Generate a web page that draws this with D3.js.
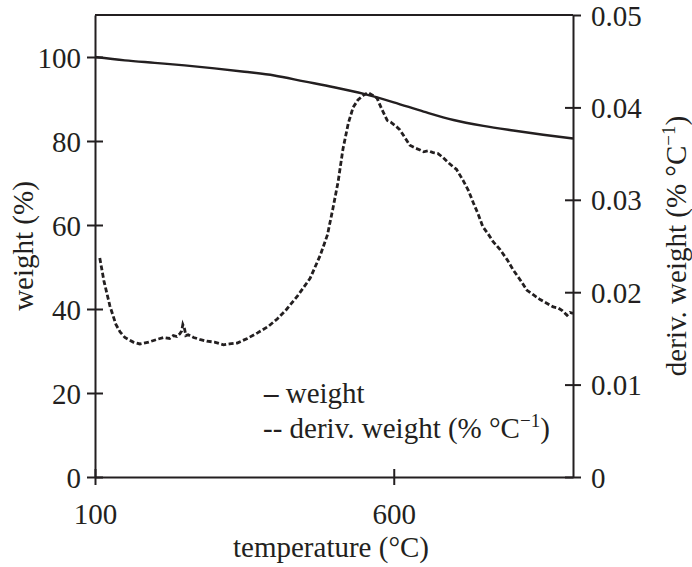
<!DOCTYPE html>
<html><head><meta charset="utf-8">
<script src="https://cdn.jsdelivr.net/npm/d3@7"></script>
<style>body{margin:0;background:#fff}svg{display:block}text{font-family:"Liberation Serif","Times New Roman",serif;fill:#231f20}</style>
</head><body>
<svg id="c" width="692" height="567"></svg>
<script>
const xTicks = [100, 600];
const yLeftTicks = [0, 20, 40, 60, 80, 100];
const yRightTicks = [0, 0.01, 0.02, 0.03, 0.04, 0.05];
const weightT = [100,150,200,250,300,350,400,450,500,550,600,650,700,750,800,850,900];
const weightV = [100,99.2,98.6,98.0,97.3,96.5,95.6,94.2,92.8,91.2,89.2,87.0,85.0,83.6,82.5,81.5,80.6];
const derivT = [108,115,125,135,142,150,164,175,190,204,215,225,231,237,242,245,247,250,252,256,265,275,287,300,315,325,338,355,372,390,405,420,439,460,477,489,498,507,515,524,532,540,549,557,565,572,580,589,595,603,610,618,627,636,644,650,658,666,674,682,690,699,705,716,725,733,741,749,758,766,778,790,800,812,823,834,845,856,867,875,882,890,895,900];
const derivV = [0.0237,0.0212,0.0185,0.0165,0.0157,0.0151,0.0146,0.0144,0.0146,0.0149,0.0151,0.0150,0.0153,0.0152,0.0155,0.0158,0.0165,0.0160,0.0153,0.0154,0.0151,0.0149,0.0147,0.0146,0.0143,0.0144,0.0145,0.0150,0.0156,0.0163,0.0171,0.0181,0.0196,0.0215,0.0240,0.0262,0.0290,0.0320,0.0355,0.0383,0.0400,0.0408,0.0413,0.0416,0.0413,0.0410,0.0398,0.0386,0.0384,0.0380,0.0376,0.0368,0.0359,0.0356,0.0354,0.0352,0.0353,0.0351,0.0350,0.0346,0.0341,0.0336,0.0333,0.0321,0.0310,0.0297,0.0285,0.0271,0.0263,0.0255,0.0246,0.0235,0.0224,0.0213,0.0202,0.0197,0.0192,0.0188,0.0184,0.0183,0.0180,0.0175,0.0178,0.0177];

const svg = d3.select("#c");
const L = 95, R = 573, T = 15, B = 477;
const x = d3.scaleLinear().domain([100, 900]).range([L, R]);
const yL = d3.scaleLinear().domain([0, 110]).range([B, T]);
const yR = d3.scaleLinear().domain([0, 0.05]).range([B, T]);
const FS = 29;
const col = "#231f20";

svg.append("line").attr("x1", L).attr("x2", R).attr("y1", T).attr("y2", T).attr("stroke", col).attr("stroke-width", 2);

function styleAxis(g){
  g.select(".domain").attr("stroke", col).attr("stroke-width", 2);
  g.selectAll(".tick line").attr("stroke", col).attr("stroke-width", 2);
  g.selectAll(".tick text").attr("font-size", FS).attr("font-family", '"Liberation Serif",serif').attr("fill", col);
}

const ax = svg.append("g").attr("transform", `translate(0,${B})`)
  .call(d3.axisBottom(x).tickValues(xTicks).tickSize(8).tickSizeOuter(0).tickPadding(18));
styleAxis(ax);
ax.selectAll(".tick line").attr("y1", -8);

const al = svg.append("g").attr("transform", `translate(${L},0)`)
  .call(d3.axisLeft(yL).tickValues(yLeftTicks).tickSize(8).tickSizeOuter(0).tickPadding(6));
styleAxis(al);
al.selectAll(".tick line").attr("x1", 8);
al.selectAll(".tick text").attr("dy", "0.35em");

const ar = svg.append("g").attr("transform", `translate(${R},0)`)
  .call(d3.axisRight(yR).tickValues(yRightTicks).tickSize(8).tickSizeOuter(0).tickPadding(10)
    .tickFormat(d => d === 0 ? "0" : d3.format(".2f")(d)));
styleAxis(ar);
ar.selectAll(".tick line").attr("x1", d => (d === 0.05) ? 0 : -8);
ar.selectAll(".tick text").attr("dy", "0.35em");

const wData = weightT.map((t, i) => [t, weightV[i]]);
const dData = derivT.map((t, i) => [t, derivV[i]]);
svg.append("path").datum(wData)
  .attr("d", d3.line().x(d => x(d[0])).y(d => yL(d[1])).curve(d3.curveMonotoneX))
  .attr("fill", "none").attr("stroke", col).attr("stroke-width", 2.4);
svg.append("path").datum(dData)
  .attr("d", d3.line().x(d => x(d[0])).y(d => yR(d[1])).curve(d3.curveLinear))
  .attr("fill", "none").attr("stroke", col).attr("stroke-width", 2.8).attr("stroke-dasharray", "5,2.5");

svg.append("text").attr("x", 331).attr("y", 557).attr("text-anchor", "middle")
  .attr("font-size", FS).text("temperature (°C)");
svg.append("text").attr("transform", `translate(33,${(T + B) / 2}) rotate(-90)`).attr("text-anchor", "middle")
  .attr("font-size", FS).text("weight (%)");
const rt = svg.append("text").attr("transform", `translate(686,${(T + B) / 2}) rotate(-90)`).attr("text-anchor", "middle")
  .attr("font-size", FS);
rt.append("tspan").text("deriv. weight (% °C");
rt.append("tspan").attr("font-size", 19).attr("dy", -11).text("−1");
rt.append("tspan").attr("dy", 11).text(")");

const l1 = svg.append("text").attr("x", 264).attr("y", 403).attr("font-size", FS);
l1.append("tspan").attr("font-weight", "bold").text("–");
l1.append("tspan").text(" weight");
const lg = svg.append("text").attr("x", 263).attr("y", 438).attr("font-size", FS);
lg.append("tspan").text("-- deriv. weight (% °C");
lg.append("tspan").attr("font-size", 19).attr("dy", -11).text("−1");
lg.append("tspan").attr("dy", 11).text(")");
</script>
</body></html>
